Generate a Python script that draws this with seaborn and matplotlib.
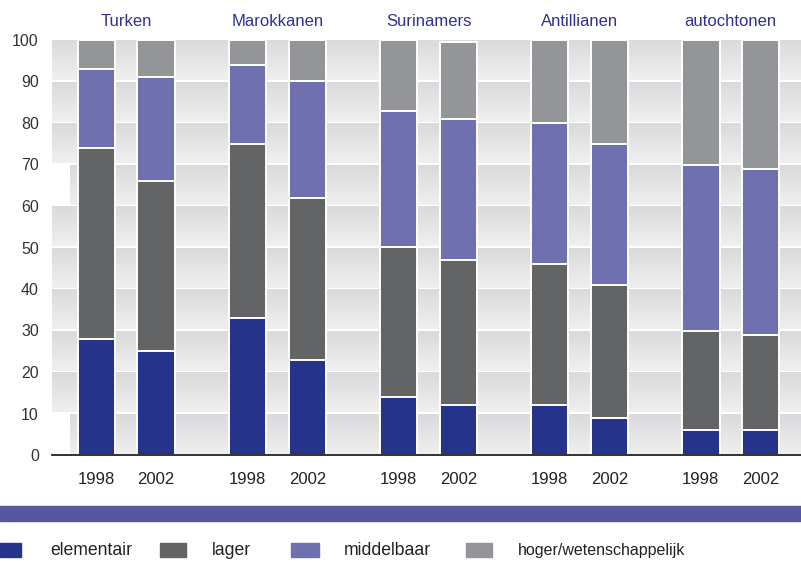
import numpy as np
import pandas as pd
import matplotlib
matplotlib.use("Agg")
import matplotlib.pyplot as plt
from matplotlib.colors import LinearSegmentedColormap
from matplotlib.patches import Rectangle
import seaborn as sns

# Opleidingsniveau per herkomstgroep, in procenten
groups = ["Turken", "Marokkanen", "Surinamers", "Antillianen", "autochtonen"]
years = ["1998", "2002"]
levels = ["elementair", "lager", "middelbaar", "hoger/wetenschappelijk"]
elementair = [28, 25, 33, 23, 14, 12, 12, 9, 6, 6]
lager = [46, 41, 42, 39, 36, 35, 34, 32, 24, 23]
middelbaar = [19, 25, 19, 28, 33, 34, 34, 34, 40, 40]
hoger = [7, 9, 6, 10, 17, 18.5, 20, 25, 30, 31]
yticks = list(range(0, 101, 10))

colors = ["#25338a", "#636466", "#6e70b0", "#949598"]
title_blue = "#2e3192"

sns.set_style("white")
plt.rcParams["font.family"] = ["Liberation Sans", "DejaVu Sans"]

W, H = 801, 562
fig = plt.figure(figsize=(W / 100, H / 100), dpi=100)
ax = fig.add_axes([52 / W, (H - 455) / H, (W - 52) / W, 415 / H])

# bar positions: two years per group, in pixel-like axis units
group_step, first_center, half_gap = 151.1, 126.3, 29.9
pos = []
for g in range(len(groups)):
    c = first_center + g * group_step
    pos += [c - half_gap, c + half_gap]

df = pd.DataFrame({
    "pos": pos,
    "group": np.repeat(groups, 2),
    "year": years * len(groups),
    "elementair": elementair,
    "lager": lager,
    "middelbaar": middelbaar,
    "hoger": hoger,
})
layers = ["elementair", "lager", "middelbaar", "hoger"]
cum = df[layers].cumsum(axis=1)

# gradient bands between the gridlines
band_cmap = LinearSegmentedColormap.from_list("band", ["#f0f0f1", "#dadadc"])
grad = np.linspace(0, 1, 64).reshape(-1, 1)
for k in range(10):
    x0 = 70 if k in (0, 6) else 52
    y0 = 10 * k + (0.0 if k == 0 else 0.25)
    y1 = 10 * k + 10 - 0.25 if k < 9 else 100
    ax.imshow(grad, cmap=band_cmap, origin="lower", aspect="auto",
              extent=[x0, W, y0, y1], zorder=0, interpolation="bilinear")

# stacked bars: draw cumulative totals from the top layer down
bar_width = 37.5 / (2 * half_gap)
for lvl, col in reversed(list(zip(layers, colors))):
    sns.barplot(x=df["pos"], y=cum[lvl], native_scale=True, width=bar_width,
                color=col, edgecolor="white", linewidth=1.4, errorbar=None,
                saturation=1, ax=ax, zorder=3)

ax.set_xlim(52, W)
ax.set_ylim(0, 100)
ax.set_yticks(yticks)
ax.set_yticklabels([str(t) for t in yticks], fontsize=11.5, color="#333333")
ax.set_xticks(pos)
ax.set_xticklabels(df["year"], fontsize=12, color="#222222")
ax.tick_params(axis="y", length=0, pad=9.5)
ax.tick_params(axis="x", length=0, pad=12)
ax.set_xlabel("")
ax.set_ylabel("")
for side in ["top", "right", "left"]:
    ax.spines[side].set_visible(False)
ax.spines["bottom"].set_color("#222222")
ax.spines["bottom"].set_linewidth(1.3)
ax.spines["bottom"].set_zorder(5)

# group titles above the pairs
for g, name in enumerate(groups):
    cx = first_center + g * group_step
    fig.text(cx / W, 1 - 21 / H, name, ha="center", va="center",
             fontsize=12, color=title_blue)

# horizontal rule under the chart
fig.patches.append(Rectangle((0, (H - 521) / H), 1, 15 / H,
                             transform=fig.transFigure, color="#5558a0",
                             zorder=0))

# legend row
sq = [(0, 21), (160, 186), (291, 319), (466, 492)]
tx = [50, 212, 344, 518]
for (a, b), t, lvl, col in zip(sq, tx, levels, colors):
    fig.patches.append(Rectangle((a / W, (H - 557) / H), (b - a) / W, 14 / H,
                                 transform=fig.transFigure, color=col))
    fig.text(t / W, 1 - 550.5 / H, lvl, ha="left", va="center",
             fontsize=12.7 if lvl != "hoger/wetenschappelijk" else 11.5,
             color="#222222")

fig.savefig("out.png", dpi=100, facecolor="white")
